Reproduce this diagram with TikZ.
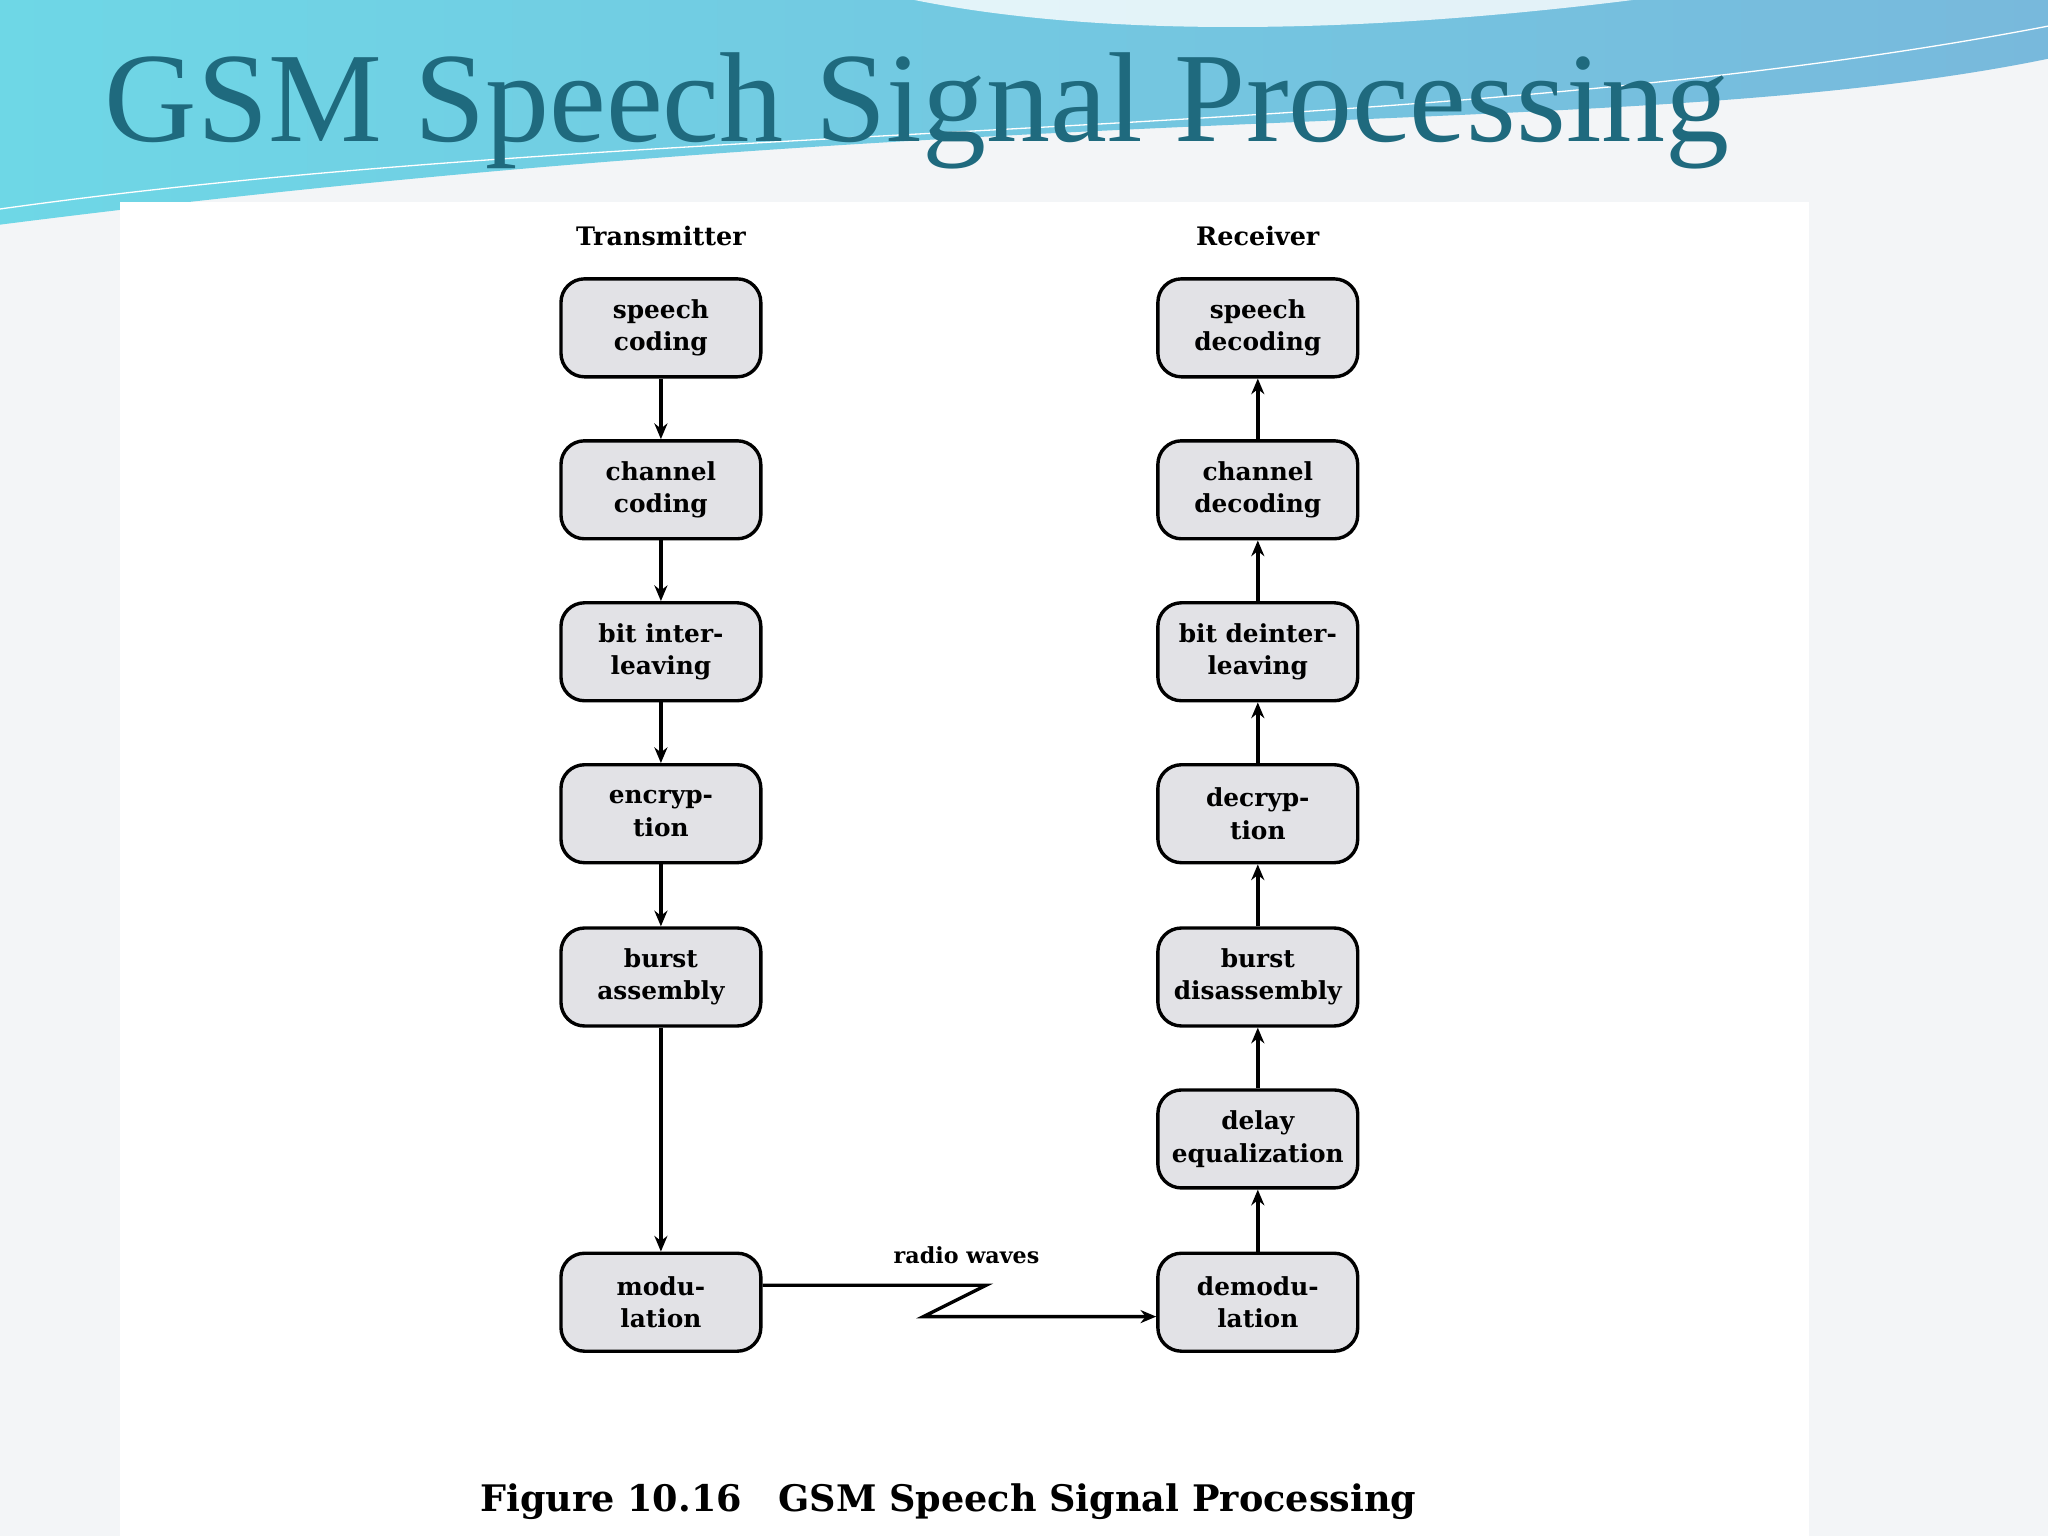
\documentclass[tikz,border=0pt]{standalone}
\usepackage{fontspec}
\setmainfont{Liberation Serif}
\newfontfamily\figf{DejaVu Serif}
\usetikzlibrary{arrows.meta}
\definecolor{titlec}{HTML}{1F6A7E}
\definecolor{boxf}{HTML}{E2E2E6}
\definecolor{bgc}{HTML}{F3F5F7}
\definecolor{wa}{HTML}{6ED7E6}
\definecolor{wb}{HTML}{78B9DC}
\begin{document}
\begin{tikzpicture}[x=1pt,y=-1pt,
  blk/.style={draw=black,line width=2.6pt,fill=boxf,rounded corners=18pt,minimum width=153pt,minimum height=75pt,align=center,font=\figf\fontsize{19}{25}\selectfont\bfseries,inner sep=0pt},
  arr/.style={line width=2.6pt,-{Stealth[length=12pt,width=10pt]}}]
\useasboundingbox (0,0) rectangle (1568,1176);
\fill[bgc] (0,0) rectangle (1568,1176);
\shade[left color=wa,right color=wb]
 (0,0) -- (1568,0) -- (1568,45) .. controls (1250,110) and (800,70) .. (0,172) -- cycle;
\fill[white,opacity=0.8] (700,0) .. controls (850,30) and (1050,25) .. (1250,0) -- cycle;
\draw[white,line width=1pt] (0,160) .. controls (500,90) and (1100,110) .. (1568,20);
\fill[white] (92,155) rectangle (1385,1176);
\node[anchor=base west,text=titlec,font=\fontsize{98}{100}\selectfont,inner sep=0] at (80,108) {GSM Speech Signal Processing};
\node[font=\figf\fontsize{19.5}{24}\selectfont\bfseries] (tt) at (506,181) {Transmitter};
\node[font=\figf\fontsize{19.5}{24}\selectfont\bfseries] (rt) at (963,181) {Receiver};
\node[blk] (t1) at (506,251) {speech\\coding};
\node[blk] (t2) at (506,375) {channel\\coding};
\node[blk] (t3) at (506,499) {bit inter-\\leaving};
\node[blk] (t4) at (506,623) {encryp-\\tion};
\node[blk] (t5) at (506,748) {burst\\assembly};
\node[blk] (t6) at (506,997) {modu-\\lation};
\node[blk] (r1) at (963,251) {speech\\decoding};
\node[blk] (r2) at (963,375) {channel\\decoding};
\node[blk] (r3) at (963,499) {bit deinter-\\leaving};
\node[blk] (r4) at (963,623) {decryp-\\tion};
\node[blk] (r5) at (963,748) {burst\\disassembly};
\node[blk] (r6) at (963,872) {delay\\equalization};
\node[blk] (r7) at (963,997) {demodu-\\lation};
\draw[arr] (t1)--(t2); \draw[arr] (t2)--(t3); \draw[arr] (t3)--(t4); \draw[arr] (t4)--(t5); \draw[arr] (t5)--(t6);
\draw[arr] (r7)--(r6); \draw[arr] (r6)--(r5); \draw[arr] (r5)--(r4); \draw[arr] (r4)--(r3); \draw[arr] (r3)--(r2); \draw[arr] (r2)--(r1);
\coordinate (w1) at (755,984); \coordinate (w2) at (707,1008);
\draw[arr] (t6.east|-0,984) -- (w1) -- (w2) -- (r7.west|-0,1008);
\node[font=\figf\fontsize{17}{20}\selectfont\bfseries] (rw) at (740,961) {radio waves};
\node[font=\figf\fontsize{28}{32}\selectfont\bfseries] (cap) at (726,1150) {Figure 10.16\quad GSM Speech Signal Processing};
\end{tikzpicture}
\end{document}
